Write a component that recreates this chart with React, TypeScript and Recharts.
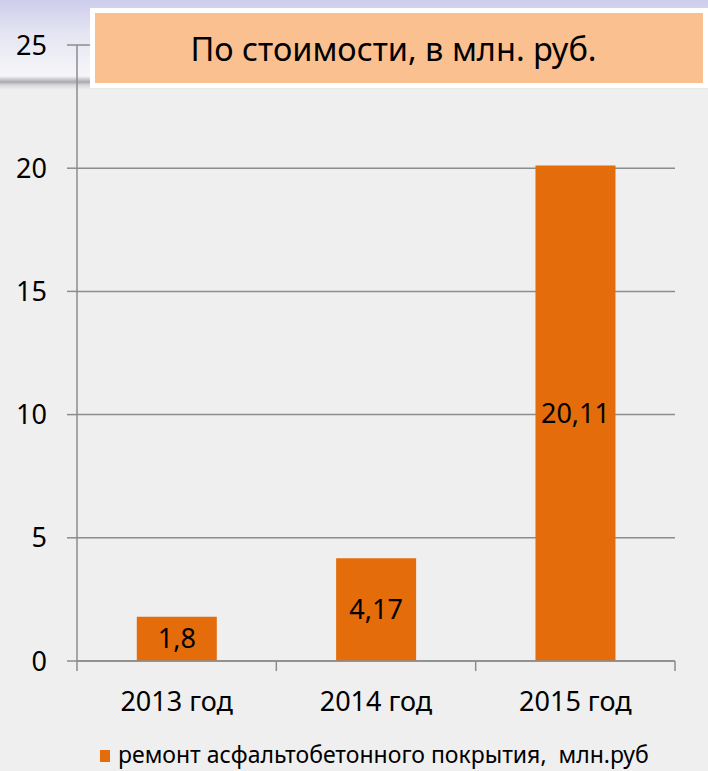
import React from "react";
import { BarChart, Bar, XAxis, YAxis, CartesianGrid, Legend, LabelList } from "recharts";

const years = ["2013 год", "2014 год", "2015 год"];
const repairCost = [1.8, 4.17, 20.11];
const yTicks = [0, 5, 10, 15, 20, 25];
const seriesName = "ремонт асфальтобетонного покрытия,  млн.руб";
const title = "По стоимости, в млн. руб.";

const data = years.map((year, i) => ({ year, cost: repairCost[i] }));

const FONT = "'Noto Sans', 'DejaVu Sans', sans-serif";
const AXIS = "#8c8c8c";
const ORANGE = "#e46c0a";
const X_MARGIN = 31;
const X_TICK = 10;

const fmt = (v: any) => String(v).replace(".", ",");

// category label plus Excel-style tick marks on the band edges
function YearTick(props: any) {
  const { x, y, payload, index, visibleTicksCount } = props;
  const half = payload.offset || 0;
  const axisY = y - X_MARGIN;
  const last = index === visibleTicksCount - 1;
  return (
    <g>
      <line x1={x - half} x2={x - half} y1={axisY} y2={axisY + X_TICK} stroke={AXIS} strokeWidth={1.5} />
      {last && (
        <line x1={x + half} x2={x + half} y1={axisY} y2={axisY + X_TICK} stroke={AXIS} strokeWidth={1.5} />
      )}
      <text x={x} y={y} dy="0.71em" textAnchor="middle" fontSize={27} fill="#000" fontFamily={FONT}>
        {payload.value}
      </text>
    </g>
  );
}

function LegendBox(props: any) {
  const item = (props.payload || [])[0];
  return (
    <div style={{ height: 50, paddingTop: 16, boxSizing: "border-box", display: "flex", alignItems: "center", marginLeft: 100 }}>
      <span style={{ width: 10, height: 12, background: ORANGE, display: "inline-block", marginRight: 8, position: "relative", top: 2 }} />
      <span style={{ fontSize: 23, lineHeight: "24px", color: "#000", fontFamily: FONT, whiteSpace: "pre" }}>
        {item ? item.value : seriesName}
      </span>
    </div>
  );
}

export default function App() {
  return (
    <div
      style={{
        position: "fixed",
        left: 0,
        top: 0,
        width: 708,
        height: 771,
        overflow: "hidden",
        background: "#efefef",
        fontFamily: FONT,
      }}
    >
      <div
        style={{
          position: "absolute",
          left: 0,
          top: 0,
          width: 708,
          height: 90,
          background:
            "linear-gradient(to bottom, #cdcdec 0px, #e6e6f3 35px, #f6f6f9 76px, #a8a8b0 82px, #d8d8da 85px, #efefef 90px)",
        }}
      />
      <div style={{ position: "absolute", left: 0, top: 0 }}>
        <BarChart width={708} height={771} data={data} margin={{ top: 45, right: 33, left: 0, bottom: 0 }} barCategoryGap="30%">
          <CartesianGrid vertical={false} stroke={AXIS} strokeWidth={1.5} />
          <YAxis
            width={77}
            domain={[0, 25]}
            ticks={yTicks}
            interval={0}
            axisLine={{ stroke: AXIS, strokeWidth: 1.5 }}
            tickLine={{ stroke: AXIS, strokeWidth: 1.5 }}
            tickSize={10}
            tickMargin={20}
            tick={{ fontSize: 27, fill: "#000", fontFamily: FONT }}
          />
          <XAxis
            dataKey="year"
            height={60}
            interval={0}
            axisLine={{ stroke: AXIS, strokeWidth: 1.5 }}
            tickLine={false}
            tickSize={0}
            tickMargin={X_MARGIN}
            tick={<YearTick />}
          />
          <Legend verticalAlign="bottom" content={<LegendBox />} />
          <Bar dataKey="cost" name={seriesName} fill={ORANGE} isAnimationActive={false}>
            <LabelList dataKey="cost" position="center" formatter={fmt} fontSize={27} fill="#000" fontFamily={FONT} />
          </Bar>
        </BarChart>
      </div>
      <div
        style={{
          position: "absolute",
          left: 90,
          top: 8,
          width: 618,
          height: 80,
          boxSizing: "border-box",
          border: "5px solid #fff",
          background: "#fac090",
          display: "flex",
          alignItems: "center",
          justifyContent: "center",
          paddingRight: 11,
          fontSize: 32.5,
          color: "#000",
          fontFamily: FONT,
        }}
      >
        {title}
      </div>
    </div>
  );
}
